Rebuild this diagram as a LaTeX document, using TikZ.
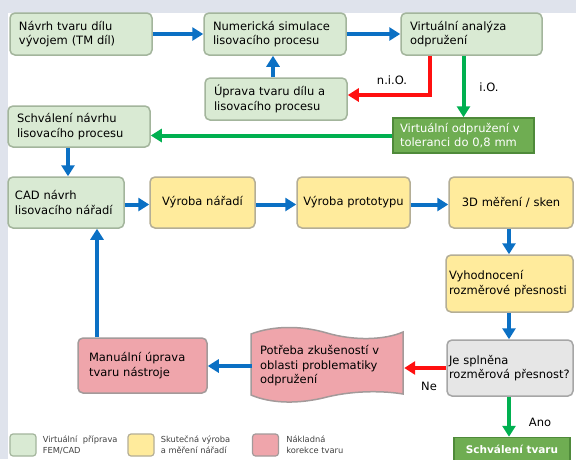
\documentclass[tikz,border=0pt]{standalone}
\usepackage{fontspec}
\setmainfont{DejaVu Sans}
\usetikzlibrary{arrows.meta,positioning,calc}
\definecolor{bgstrip}{HTML}{DFE3EC}
\definecolor{virtfill}{HTML}{D9EAD3}
\definecolor{virtline}{HTML}{A3B59C}
\definecolor{realfill}{HTML}{FFEB9C}
\definecolor{realline}{HTML}{B4AE96}
\definecolor{costfill}{HTML}{EFA5AB}
\definecolor{costline}{HTML}{A39A9A}
\definecolor{askfill}{HTML}{E6E6E6}
\definecolor{askline}{HTML}{A6A6A6}
\definecolor{okfill}{HTML}{6FAD52}
\definecolor{okline}{HTML}{4F8A3A}
\definecolor{flowblue}{HTML}{0B70C4}
\definecolor{flowred}{HTML}{FF1010}
\definecolor{flowgreen}{HTML}{00B050}
\definecolor{legtext}{HTML}{404040}
\tikzset{
  stage/.style 2 args={rounded corners=5pt, draw=virtline, fill=virtfill, line width=1.5pt,
    inner xsep=9pt, inner ysep=2pt, minimum width=#1, minimum height=#2,
    text width=#1-18pt, align=left, font=\fontsize{11.5}{14.5}\selectfont},
  realstage/.style={draw=realline, fill=realfill, align=center},
  coststage/.style={draw=costline, fill=costfill},
  askstage/.style={draw=askline, fill=askfill},
  okbox/.style={draw=okline, fill=okfill, line width=1.5pt, text=white, inner xsep=7pt,
    font=\fontsize{11.5}{14.5}\selectfont},
  flow/.style={line width=4pt, -{Triangle[length=11pt,width=13pt]}},
  blueflow/.style={flow, draw=flowblue},
  redflow/.style={flow, draw=flowred},
  greenflow/.style={flow, draw=flowgreen},
  flowlabel/.style={inner sep=0pt, font=\fontsize{11.5}{14.5}\selectfont},
  legswatch/.style={rounded corners=3pt, line width=1.2pt, minimum width=26pt, minimum height=22pt},
  legnote/.style={inner sep=0pt, align=left, text=legtext, font=\fontsize{8.3}{11}\selectfont}
}
\begin{document}
\begin{tikzpicture}[x=1pt, y=-1pt]
  \useasboundingbox (0,0) rectangle (576,459);
  \fill[white] (0,0) rectangle (576,459);
  \fill[bgstrip] (0,0) rectangle (576,12.5);
  \fill[bgstrip] (0,0) rectangle (7.5,459);

  % virtual stage
  \node[stage={142pt}{42pt}] (nTM) at (81,34) {Návrh tvaru dílu\\vývojem (TM díl)};
  \node[stage={142pt}{42pt}] (nSim) at (275,34) {Numerická simulace\\lisovacího procesu};
  \node[stage={141pt}{42pt}] (nVirt) at (471.5,34) {Virtuální analýza\\odpružení};
  \node[stage={142pt}{42pt}] (nUprava) at (276,99) {Úprava tvaru dílu a\\lisovacího procesu};
  \node[stage={142pt}{41pt}] (nSchvNavrh) at (79,126.5) {Schválení návrhu\\lisovacího procesu};
  \node[okbox, minimum width=141pt, minimum height=35pt, text width=127pt, align=left]
    (nTol) at (463.5,135.5) {Virtuální odpružení v\\toleranci do 0,8 mm};
  \node[stage={116pt}{51pt}, inner xsep=7pt, text width=102pt] (nCAD) at (66,202.5)
    {CAD návrh\\lisovacího nářadí};

  % real production
  \node[stage={105pt}{51pt}, realstage, inner xsep=4pt, text width=97pt] (nVyrN) at (202.5,202.5)
    {Výroba nářadí};
  \node[stage={113pt}{51pt}, realstage, inner xsep=3pt, text width=107pt] (nVyrP) at (353.5,202.5)
    {Výroba prototypu};
  \node[stage={124pt}{51pt}, realstage, inner xsep=3pt, text width=118pt] (n3D) at (511,202.5)
    {3D měření / sken};
  \node[stage={127pt}{57pt}, realstage, inner xsep=3pt, text width=121pt, align=left]
    (nVyh) at (509.5,283.5) {Vyhodnocení\\rozměrové přesnosti};
  \node[stage={126pt}{56pt}, askstage, inner xsep=2pt, text width=122pt] (nJe) at (510,368)
    {Je splněna\\rozměrová přesnost?};

  % costly correction
  \node[stage={129pt}{55pt}, coststage, inner xsep=11pt, text width=107pt] (nManual) at (142.5,365.5)
    {Manuální úprava\\tvaru nástroje};
  \filldraw[fill=costfill, draw=costline, line width=1.5pt]
    (251,334) .. controls (272,326) and (300,325) .. (327,333)
              .. controls (354,341) and (385,340) .. (403,332)
    -- (403,394)
              .. controls (385,391) and (356,390) .. (327,397)
              .. controls (300,404) and (272,404) .. (251,395) -- cycle;
  \node[align=left, inner sep=0pt, minimum width=152pt, minimum height=56pt,
    text width=136pt, font=\fontsize{11.5}{14.5}\selectfont] (nPotr) at (328,366)
    {Potřeba zkušeností v\\oblasti problematiky\\odpružení};
  \node[okbox, minimum width=116pt, minimum height=24pt,
    font=\bfseries\fontsize{10.5}{13}\selectfont] (nSchvT) at (512,449.5) {Schválení tvaru};

  % connectors
  \coordinate (redturn) at (430,95);
  \draw[blueflow] (nTM) -- (nSim);
  \draw[blueflow] (nSim) -- (nVirt);
  \draw[blueflow] (nUprava.north -| 273,0) -- (nSim.south -| 273,0);
  \draw[redflow] (nVirt.south -| redturn) -- (redturn) -- (redturn -| nUprava.east);
  \node[flowlabel] (lblNiO) at (392,80) {n.i.O.};
  \draw[greenflow] (nVirt.south -| nTol.north) -- (nTol.north);
  \node[flowlabel] (lblIO) at (489,87) {i.O.};
  \draw[greenflow] (nTol.west) -- (nTol.west -| nSchvNavrh.east);
  \draw[blueflow] (nSchvNavrh.south -| 68,0) -- (nCAD.north -| 68,0);
  \draw[blueflow] ([yshift=-2pt]nCAD.east) -- ([yshift=-2pt]nCAD.east -| nVyrN.west);
  \draw[blueflow] ([yshift=-2pt]nVyrN.east) -- ([yshift=-2pt]nVyrN.east -| nVyrP.west);
  \draw[blueflow] ([yshift=-2pt]nVyrP.east) -- ([yshift=-2pt]nVyrP.east -| n3D.west);
  \draw[blueflow] (n3D.south -| 509,0) -- (nVyh.north -| 509,0);
  \draw[blueflow] (nVyh.south -| 509,0) -- (nJe.north -| 509,0);
  \draw[redflow] (nJe.west) -- (nJe.west -| nPotr.east);
  \node[flowlabel] (lblNe) at (429,386) {Ne};
  \draw[blueflow] (nPotr.west) -- (nPotr.west -| nManual.east);
  \draw[blueflow] (nManual.north -| 97,0) -- (nCAD.south -| 97,0);
  \draw[greenflow] (nJe.south -| 509,0) -- (nSchvT.north -| 509,0);
  \node[flowlabel] (lblAno) at (540,422) {Ano};

  % legend
  \node[legswatch, draw=virtline, fill=virtfill] (legVirt) at (23,445) {};
  \node[legnote, right=6pt of legVirt] (legVirtTxt) {Virtuální\ \ příprava\\FEM/CAD};
  \node[legswatch, draw=realline, fill=realfill] (legReal) at (141,445) {};
  \node[legnote, right=6pt of legReal] (legRealTxt) {Skutečná výroba\\a měření nářadí};
  \node[legswatch, draw=costline, fill=costfill] (legCost) at (265.5,445) {};
  \node[legnote, right=7pt of legCost] (legCostTxt) {Nákladná\\korekce tvaru};
\end{tikzpicture}
\end{document}
